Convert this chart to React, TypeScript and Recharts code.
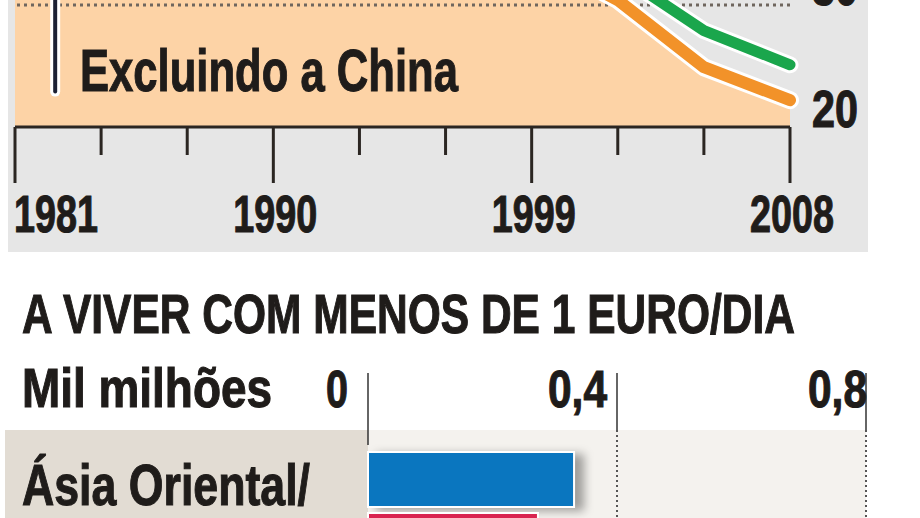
import React from "react";
import {
  Area,
  Bar,
  BarChart,
  ComposedChart,
  Line,
  ReferenceLine,
  XAxis,
  YAxis,
} from "recharts";

// Top panel: share of population (%) — cut off at the top in the source
const YEARS = [1981, 1984, 1987, 1990, 1993, 1996, 1999, 2002, 2005, 2008];
const EXCL_CHINA = [41.5, 40.8, 39.6, 38.9, 37.7, 36.2, 34.1, 30.4, 24.9, 22.2];
const OTHER_LINE = [52.0, 49.5, 46.2, 44.0, 42.1, 38.9, 36.4, 32.6, 27.9, 25.1];
const PCT_TICKS = [20, 30];
const YEAR_LABELS = [1981, 1990, 1999, 2008];

// Bottom panel: thousand millions living on less than 1 euro/day
const REGIONS = ["Ásia Oriental/Pacífico"];
const BLUE_VALUES = [0.331];
const RED_VALUES = [0.273];
const BILLION_TICKS = [0, 0.4, 0.8];
const BILLION_LABELS = ["0", "0,4", "0,8"];

const FONT = '"Liberation Sans", Arial, "DejaVu Sans", sans-serif';
const INK = "#1f1c1a";
// heavier strokes, closer to the black condensed face of the print original
const HEAVY = { stroke: INK, strokeWidth: 1.1, paintOrder: "stroke" } as const;

const topData = YEARS.map((year, i) => ({ year, excl: EXCL_CHINA[i], other: OTHER_LINE[i] }));
const barData = REGIONS.map((region, i) => ({ region, blue: BLUE_VALUES[i], red: RED_VALUES[i] }));

function YearTick({ x, y, payload, index }: any) {
  const major = YEAR_LABELS.includes(payload.value);
  return (
    <g>
      <line x1={x} x2={x} y1={y} y2={y + (major ? 56 : 28)} stroke="#2b2622" strokeWidth={3} />
      {major && (
        <text
          x={index === 0 ? x - 1 : x + 2}
          y={y + 105}
          textAnchor={index === 0 ? "start" : "middle"}
          fontFamily={FONT}
          fontWeight="bold"
          fontSize={51}
          fill={INK}
          {...HEAVY}
          textLength={84}
          lengthAdjust="spacingAndGlyphs"
        >
          {payload.value}
        </text>
      )}
    </g>
  );
}

function PctTick({ x, y, payload }: any) {
  return (
    <text
      x={x + 22}
      y={y}
      fontFamily={FONT}
      fontWeight="bold"
      fontSize={51}
      fill={INK}
      {...HEAVY}
      textLength={46}
      lengthAdjust="spacingAndGlyphs"
    >
      {payload.value}
    </text>
  );
}

const BILLION_DX = [-20, -10, 1];

function BillionTick({ x, y, index }: any) {
  const label = BILLION_LABELS[index];
  return (
    <g>
      <line x1={x} x2={x} y1={y - 57} y2={index === 0 ? y + 15 : y} stroke="#333" strokeWidth={1.5} />
      <text
        x={x + BILLION_DX[index]}
        y={y - 23}
        textAnchor="end"
        fontFamily={FONT}
        fontWeight="bold"
        fontSize={51}
        fill={INK}
        {...HEAVY}
        textLength={label.length === 1 ? 22 : 59}
        lengthAdjust="spacingAndGlyphs"
      >
        {label}
      </text>
    </g>
  );
}

function RegionTick({ x, y, payload }: any) {
  const [first, second] = String(payload.value).split("/");
  return (
    <text fontFamily={FONT} fontWeight="bold" fontSize={58} fill={INK} {...HEAVY}>
      <tspan x={x - 346} y={y - 5} textLength={288} lengthAdjust="spacingAndGlyphs">
        {first}/
      </tspan>
      <tspan x={x - 346} y={y + 75}>
        {second}
      </tspan>
    </text>
  );
}

function BarShape(color: string, shadow: boolean) {
  return (p: any) => (
    <rect
      x={p.x}
      y={p.y}
      width={p.width}
      height={p.height}
      fill={color}
      stroke="#ffffff"
      strokeWidth={2}
      style={shadow ? { filter: "drop-shadow(9px 3px 5px rgba(0,0,0,0.35))" } : undefined}
    />
  );
}

export default function App() {
  return (
    <div
      style={{
        position: "absolute",
        left: 0,
        top: 0,
        width: 920,
        height: 518,
        overflow: "hidden",
        background: "#ffffff",
      }}
    >
      {/* panel backgrounds */}
      <div style={{ position: "absolute", left: 8, top: 0, width: 860, height: 252, background: "#e6e6e6" }} />
      <div style={{ position: "absolute", left: 5, top: 430, width: 363, height: 120, background: "#e2dcd3" }} />
      <div style={{ position: "absolute", left: 368, top: 430, width: 498, height: 120, background: "#f4f2ee" }} />

      <div style={{ position: "absolute", left: 0, top: 0 }}>
        <ComposedChart width={920} height={252} data={topData} margin={{ top: 0, right: 0, left: 15, bottom: 0 }}>
          <XAxis
            dataKey="year"
            type="number"
            domain={[1981, 2008]}
            ticks={YEARS}
            interval={0}
            height={125}
            tickSize={0}
            tickMargin={0}
            tickLine={false}
            axisLine={{ stroke: "#2b2622", strokeWidth: 3 }}
            tick={<YearTick />}
          />
          <YAxis
            orientation="right"
            width={130}
            domain={[20, 30.41]}
            allowDataOverflow
            ticks={PCT_TICKS}
            interval={0}
            tickSize={0}
            tickMargin={0}
            axisLine={false}
            tickLine={false}
            tick={<PctTick />}
          />
          <Area
            dataKey="excl"
            type="linear"
            fill="#fdd3a6"
            fillOpacity={1}
            stroke="none"
            isAnimationActive={false}
          />
          <ReferenceLine y={30} stroke="#6f665e" strokeWidth={3} strokeDasharray="3 4" />
          <ReferenceLine
            segment={[{ x: 1982.4, y: 30.41 }, { x: 1982.4, y: 22.9 }]}
            stroke="#ffffff"
            strokeWidth={10}
            strokeLinecap="round"
            ifOverflow="hidden"
          />
          <ReferenceLine
            segment={[{ x: 1982.4, y: 30.41 }, { x: 1982.4, y: 22.9 }]}
            stroke="#1c2033"
            strokeWidth={4}
            strokeLinecap="round"
            ifOverflow="hidden"
          />
          <Line dataKey="excl" type="linear" stroke="#ffffff" strokeWidth={18} strokeLinecap="round" strokeLinejoin="round" dot={false} isAnimationActive={false} />
          <Line dataKey="excl" type="linear" stroke="#f29229" strokeWidth={12} strokeLinecap="round" strokeLinejoin="round" dot={false} isAnimationActive={false} />
          <Line dataKey="other" type="linear" stroke="#ffffff" strokeWidth={17} strokeLinecap="round" strokeLinejoin="round" dot={false} isAnimationActive={false} />
          <Line dataKey="other" type="linear" stroke="#1aa64c" strokeWidth={11} strokeLinecap="round" strokeLinejoin="round" dot={false} isAnimationActive={false} />
        </ComposedChart>
      </div>

      <div style={{ position: "absolute", left: 0, top: 360 }}>
        <BarChart
          layout="vertical"
          width={920}
          height={230}
          data={barData}
          margin={{ top: 0, right: 54, left: 0, bottom: 0 }}
          barGap={6}
        >
          <XAxis
            type="number"
            orientation="top"
            domain={[0, 0.8]}
            ticks={BILLION_TICKS}
            interval={0}
            height={70}
            tickSize={0}
            tickMargin={0}
            axisLine={false}
            tickLine={false}
            tick={<BillionTick />}
          />
          <YAxis
            type="category"
            dataKey="region"
            width={368}
            tickSize={0}
            tickMargin={0}
            axisLine={false}
            tickLine={false}
            tick={<RegionTick />}
          />
          <ReferenceLine x={0.4} stroke="#555" strokeWidth={2} strokeDasharray="2 3" />
          <ReferenceLine x={0.8} stroke="#555" strokeWidth={2} strokeDasharray="2 3" />
          <Bar dataKey="blue" barSize={55} fill="#0a76bf" shape={BarShape("#0a76bf", true)} isAnimationActive={false} />
          <Bar dataKey="red" barSize={55} fill="#d92450" shape={BarShape("#d92450", false)} isAnimationActive={false} />
        </BarChart>
      </div>

      {/* headings */}
      <svg width={920} height={518} style={{ position: "absolute", left: 0, top: 0, pointerEvents: "none" }}>
        <text x={80} y={91} fontFamily={FONT} fontWeight="bold" fontSize={60} fill={INK} {...HEAVY} textLength={378} lengthAdjust="spacingAndGlyphs">
          Excluindo a China
        </text>
        <text x={22} y={333} fontFamily={FONT} fontWeight="bold" fontSize={56} fill={INK} {...HEAVY} textLength={773} lengthAdjust="spacingAndGlyphs">
          A VIVER COM MENOS DE 1 EURO/DIA
        </text>
        <text x={22} y={407} fontFamily={FONT} fontWeight="bold" fontSize={56} fill={INK} {...HEAVY} textLength={250} lengthAdjust="spacingAndGlyphs">
          Mil milhões
        </text>
      </svg>
    </div>
  );
}
